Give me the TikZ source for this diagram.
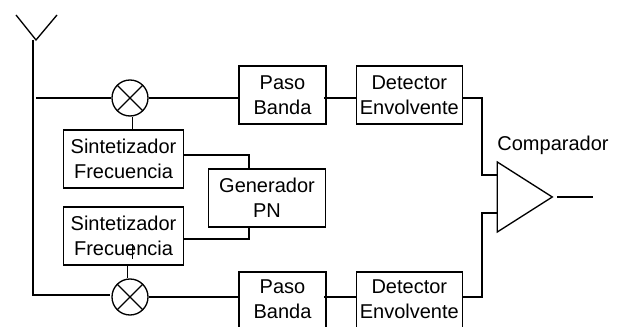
\documentclass[tikz,border=0pt]{standalone}
\usepackage{fontspec}
\setmainfont{Liberation Sans}
\usetikzlibrary{positioning,shapes.geometric,calc}

\begin{document}
\begin{tikzpicture}[x=0.75pt, y=-0.75pt, line width=1pt]

      \tikzstyle{block}      = [rectangle, draw, line width=1pt, inner sep=0pt, minimum height=43.5pt]
      \tikzstyle{pasoblock}  = [block, minimum width=65.25pt]
      \tikzstyle{detblock}   = [block, minimum width=79.5pt]
      \tikzstyle{synthblock} = [block, minimum width=90pt]
      \tikzstyle{genblock}   = [block, minimum width=88pt]
      \tikzstyle{mixer}      = [circle, draw, line width=1pt, inner sep=0pt, minimum size=27pt,
                                path picture={\draw (path picture bounding box.north west) -- (path picture bounding box.south east)
                                                    (path picture bounding box.north east) -- (path picture bounding box.south west);}]
      \tikzstyle{comparator} = [isosceles triangle, isosceles triangle apex angle=65, draw, line width=1pt, inner sep=0pt,
                                isosceles triangle stretches, minimum width=52.5pt, minimum height=41.25pt]
      \tikzstyle{connector}  = [line width=1pt]

      \newcommand{\nodesep}[0]{21.75pt}
      \newcommand{\nodename}[1]{\fontsize{15}{18.75}\selectfont \raisebox{-4.8pt}[0pt][0pt]{\begin{tabular}{@{}c@{}}#1\end{tabular}}}
      \newcommand{\lowname}[1]{\fontsize{15}{18.75}\selectfont \raisebox{-3.3pt}[0pt][0pt]{\begin{tabular}{@{}c@{}}#1\end{tabular}}}

      \useasboundingbox (0,0) rectangle (622,327);

      \node [mixer]                                   (mixerone) at (130,98)    {};
      \node [pasoblock]                               (pasoone)  at (282.5,95)  {\nodename{Paso\\Banda}};
      \node [detblock,   right = \nodesep of pasoone] (detone)                  {\nodename{Detector\\Envolvente}};
      \node [synthblock]                              (synone)   at (123.5,159) {\nodename{Sintetizador\\Frecuencia}};
      \node [genblock]                                (gen)      at (267,198)   {\nodename{Generador\\PN}};
      \node [synthblock]                              (syntwo)   at (123.5,236) {\nodename{Sintetizador\\Frecuencia}};
      \node [mixer]                                   (mixertwo) at (130,297)   {};
      \node [pasoblock]                               (pasotwo)  at (282.5,301) {\lowname{Paso\\Banda}};
      \node [detblock,   right = \nodesep of pasotwo] (dettwo)                  {\lowname{Detector\\Envolvente}};
      \node [comparator]                              (comp)     at (516.5,197) {};
      \node                                           (complabel) at (553,144)  {\nodename{Comparador}};

      % antenna
      \coordinate (antleft)  at (16,15);
      \coordinate (anttip)   at (36,40);
      \coordinate (antright) at (57,15);
      \coordinate (antfoot)  at (33,295);
      \coordinate (branchone) at (36,98);
      \coordinate (branchtwo) at (110,295);
      \coordinate (compone)  at (497,175);
      \coordinate (comptwo)  at (497,213);
      \coordinate (output)   at (593,197);
      \coordinate (outstart) at (557,197);
      \coordinate (tickone)  at (132.5,244);
      \coordinate (ticktwo)  at (132.5,259);

      \draw [connector] (antleft) -- (anttip) -- (antright);
      \draw [connector] (33,40) -- (antfoot) -- (branchtwo);

      \draw [connector] (branchone)    -- (mixerone);
      \draw [connector] (mixerone)     -- (pasoone.west |- mixerone);
      \draw [connector] (324,98)       -- (detone.west |- mixerone);
      \draw [connector] (detone.east |- mixerone) -| (482,175) -- (compone);
      \draw [connector] (mixertwo)     -- (pasotwo.west |- mixertwo);
      \draw [connector] (324,297)      -- (dettwo.west |- mixertwo);
      \draw [connector] (dettwo.east |- mixertwo) -| (482,213) -- (comptwo);
      \draw [connector] (outstart)     -- (output);

      \draw [connector] (132.5,117)    -- (132.5,130);
      \draw [connector] (127.5,265)    -- (127.5,278);
      \draw [connector] (tickone)      -- (ticktwo);

      \draw [connector] (184,155) -| (gen.north -| 249,0);
      \draw [connector] (184,239) -| (gen.south -| 249,0);

\end{tikzpicture}
\end{document}
